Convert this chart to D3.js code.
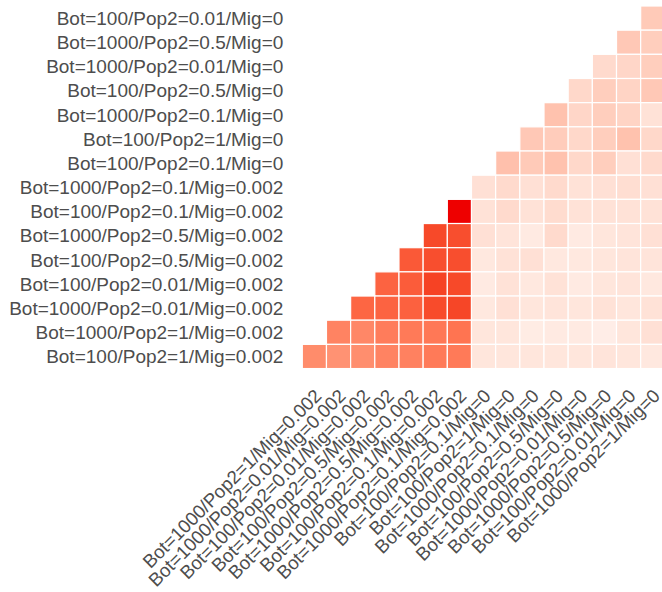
<!DOCTYPE html>
<html>
<head>
<meta charset="utf-8">
<script src="https://cdn.jsdelivr.net/npm/d3@7"></script>
<style>
  body { margin: 0; background: #ffffff; }
  svg { display: block; }
</style>
</head>
<body>
<svg id="chart" width="662" height="592"></svg>
<script>
// Row labels, top to bottom
const rowLabels = [
  "Bot=100/Pop2=0.01/Mig=0",
  "Bot=1000/Pop2=0.5/Mig=0",
  "Bot=1000/Pop2=0.01/Mig=0",
  "Bot=100/Pop2=0.5/Mig=0",
  "Bot=1000/Pop2=0.1/Mig=0",
  "Bot=100/Pop2=1/Mig=0",
  "Bot=100/Pop2=0.1/Mig=0",
  "Bot=1000/Pop2=0.1/Mig=0.002",
  "Bot=100/Pop2=0.1/Mig=0.002",
  "Bot=1000/Pop2=0.5/Mig=0.002",
  "Bot=100/Pop2=0.5/Mig=0.002",
  "Bot=100/Pop2=0.01/Mig=0.002",
  "Bot=1000/Pop2=0.01/Mig=0.002",
  "Bot=1000/Pop2=1/Mig=0.002",
  "Bot=100/Pop2=1/Mig=0.002"
];

// Column labels, left to right
const colLabels = [
  "Bot=1000/Pop2=1/Mig=0.002",
  "Bot=1000/Pop2=0.01/Mig=0.002",
  "Bot=100/Pop2=0.01/Mig=0.002",
  "Bot=100/Pop2=0.5/Mig=0.002",
  "Bot=1000/Pop2=0.5/Mig=0.002",
  "Bot=100/Pop2=0.1/Mig=0.002",
  "Bot=1000/Pop2=0.1/Mig=0.002",
  "Bot=100/Pop2=0.1/Mig=0",
  "Bot=100/Pop2=1/Mig=0",
  "Bot=1000/Pop2=0.1/Mig=0",
  "Bot=100/Pop2=0.5/Mig=0",
  "Bot=1000/Pop2=0.01/Mig=0",
  "Bot=1000/Pop2=0.5/Mig=0",
  "Bot=100/Pop2=0.01/Mig=0",
  "Bot=1000/Pop2=1/Mig=0"
];

// Pairwise values, one array per row (null = no comparison drawn)
const _ = null;
const pairValues = [
  [_, _, _, _, _, _, _, _, _, _, _, _, _, _, 0.27],
  [_, _, _, _, _, _, _, _, _, _, _, _, _, 0.28, 0.25],
  [_, _, _, _, _, _, _, _, _, _, _, _, 0.19, 0.21, 0.25],
  [_, _, _, _, _, _, _, _, _, _, _, 0.20, 0.25, 0.22, 0.28],
  [_, _, _, _, _, _, _, _, _, _, 0.31, 0.21, 0.25, 0.22, 0.15],
  [_, _, _, _, _, _, _, _, _, 0.28, 0.26, 0.20, 0.25, 0.31, 0.20],
  [_, _, _, _, _, _, _, _, 0.32, 0.27, 0.31, 0.20, 0.25, 0.16, 0.19],
  [_, _, _, _, _, _, _, 0.16, 0.19, 0.16, 0.19, 0.15, 0.16, 0.17, 0.16],
  [_, _, _, _, _, _, 1.00, 0.15, 0.19, 0.15, 0.18, 0.15, 0.15, 0.15, 0.15],
  [_, _, _, _, _, 0.86, 0.84, 0.16, 0.14, 0.11, 0.19, 0.11, 0.13, 0.14, 0.16],
  [_, _, _, _, 0.80, 0.84, 0.84, 0.12, 0.15, 0.16, 0.12, 0.12, 0.13, 0.14, 0.14],
  [_, _, _, 0.76, 0.79, 0.88, 0.86, 0.11, 0.15, 0.12, 0.15, 0.11, 0.13, 0.14, 0.12],
  [_, _, 0.75, 0.76, 0.77, 0.85, 0.87, 0.12, 0.16, 0.13, 0.14, 0.13, 0.15, 0.13, 0.15],
  [_, 0.62, 0.60, 0.65, 0.66, 0.67, 0.69, 0.13, 0.13, 0.10, 0.11, 0.11, 0.09, 0.13, 0.16],
  [0.58, 0.55, 0.57, 0.62, 0.63, 0.66, 0.66, 0.13, 0.13, 0.13, 0.13, 0.13, 0.14, 0.13, 0.12]
];

const cells = [];
pairValues.forEach((row, i) => row.forEach((v, j) => {
  if (v !== null) cells.push({ row: rowLabels[i], col: colLabels[j], value: v });
}));

const svg = d3.select("#chart");
const gridLeft = 302.3, gridTop = 6, cell = 24.17;

const x = d3.scaleBand()
  .domain(colLabels)
  .range([gridLeft, gridLeft + cell * colLabels.length])
  .padding(0);

const y = d3.scaleBand()
  .domain(rowLabels)
  .range([gridTop, gridTop + cell * rowLabels.length])
  .padding(0);

const color = d3.scaleSequential(d3.interpolateLab("#ffffff", "#ee0000"))
  .domain([0, 1]);

// Tiles
svg.append("g")
  .selectAll("rect")
  .data(cells)
  .join("rect")
  .attr("x", d => x(d.col))
  .attr("y", d => y(d.row))
  .attr("width", x.bandwidth())
  .attr("height", y.bandwidth())
  .attr("fill", d => color(d.value))
  .attr("stroke", "#ffffff")
  .attr("stroke-width", 1.2);

const font = "'Liberation Sans', Arial, Helvetica, sans-serif";

// Row axis
const yAxis = svg.append("g")
  .attr("transform", `translate(${gridLeft},0)`)
  .call(d3.axisLeft(y).tickSize(0).tickPadding(19));
yAxis.select(".domain").remove();
yAxis.selectAll("text")
  .attr("font-family", font)
  .attr("font-size", 19)
  .attr("fill", "#4d4d4d")
  .attr("dy", "0.36em");

// Column axis, labels rotated 45 degrees
const gridBottom = gridTop + cell * rowLabels.length;
const xAxis = svg.append("g")
  .attr("transform", `translate(0,${gridBottom})`)
  .call(d3.axisBottom(x).tickSize(0));
xAxis.select(".domain").remove();
xAxis.selectAll("text")
  .attr("font-family", font)
  .attr("font-size", 18.7)
  .attr("fill", "#4d4d4d")
  .attr("x", 0)
  .attr("y", 0)
  .attr("dy", 0)
  .attr("text-anchor", "end")
  .attr("transform", "translate(8.3,28.5) rotate(-45)");
</script>
</body>
</html>
